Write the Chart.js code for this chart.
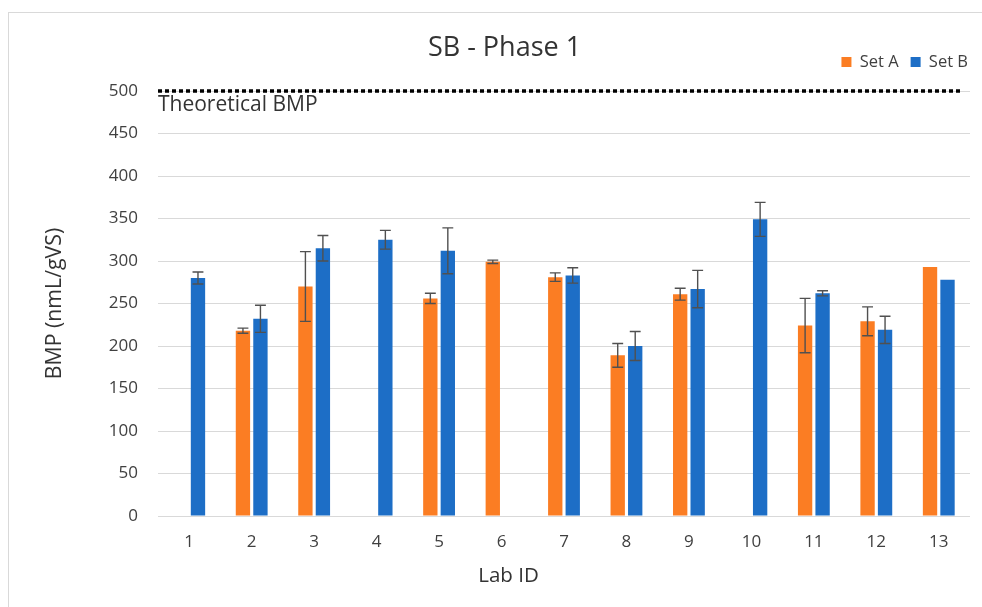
<!DOCTYPE html>
<html><head><meta charset="utf-8">
<script src="https://cdn.jsdelivr.net/npm/chart.js@4.4.1/dist/chart.umd.min.js"></script>
<style>
html,body{margin:0;padding:0;background:#fff;overflow:hidden;width:982px;height:607px;}
#frame{position:absolute;left:8px;top:12px;width:1000px;height:620px;border-left:1px solid #d9d9d9;border-top:1px solid #d9d9d9;}
#wrap{position:absolute;left:9px;top:13px;width:991px;height:594px;}
</style></head><body>
<div id="frame"></div>
<div id="wrap"><canvas id="c" width="991" height="594"></canvas></div>
<script>
// ---- data ----
const labIds = ['1','2','3','4','5','6','7','8','9','10','11','12','13'];
const setA = [null, 218, 270, null, 256, 299, 281, 189, 261, null, 224, 229, 293];
const setB = [280, 232, 315, 325, 312, null, 283, 200, 267, 349, 262, 219, 278];
const errA = [null, 3, 41, null, 6, 2, 5, 14, 7, null, 32, 17, null];
const errB = [7, 16, 15, 11, 27, null, 9, 17, 22, 20, 3, 16, null];
const theoreticalBMP = 500;
const theoreticalLabel = 'Theoretical BMP';
const yTicks = { min: 0, max: 500, step: 50 };

const FONT = '"Open Sans"';
Chart.defaults.font.family = FONT;

const errorBars = {
  id: 'errorBars',
  afterDatasetsDraw(chart) {
    const ctx = chart.ctx, y = chart.scales.y;
    const errs = [errA, errB];
    chart.data.datasets.forEach((ds, i) => {
      const meta = chart.getDatasetMeta(i);
      meta.data.forEach((bar, j) => {
        const v = ds.data[j], e = errs[i][j];
        if (v == null || e == null) return;
        const top = y.getPixelForValue(v + e), bot = y.getPixelForValue(v - e);
        const cw = bar.width * 0.38;
        ctx.save();
        ctx.strokeStyle = '#505050';
        ctx.lineWidth = 1.4;
        ctx.beginPath();
        ctx.moveTo(bar.x, top); ctx.lineTo(bar.x, bot);
        ctx.moveTo(bar.x - cw, top); ctx.lineTo(bar.x + cw, top);
        ctx.moveTo(bar.x - cw, bot); ctx.lineTo(bar.x + cw, bot);
        ctx.stroke();
        ctx.restore();
      });
    });
  }
};

const theoretical = {
  id: 'theoretical',
  afterDatasetsDraw(chart) {
    const { ctx, chartArea: a, scales: { y } } = chart;
    const py = y.getPixelForValue(theoreticalBMP);
    ctx.save();
    ctx.setLineDash([4, 3]);
    ctx.lineWidth = 3.5;
    ctx.strokeStyle = '#000';
    ctx.beginPath();
    ctx.moveTo(a.left, py);
    ctx.lineTo(a.right - 0.01 * (a.right - a.left), py);
    ctx.stroke();
    ctx.setLineDash([]);
    ctx.font = '21px ' + FONT;
    ctx.fillStyle = '#333';
    ctx.textAlign = 'left';
    ctx.textBaseline = 'alphabetic';
    ctx.fillText(theoreticalLabel, a.left, py + 20);
    ctx.restore();
  }
};

const xTitle = {
  id: 'xTitle',
  afterDraw(chart) {
    const { ctx, chartArea: a } = chart;
    const t = chart.options.scales.x.title;
    ctx.save();
    ctx.font = '20.5px ' + FONT;
    ctx.fillStyle = '#333';
    ctx.textAlign = 'center';
    ctx.textBaseline = 'alphabetic';
    ctx.fillText(t.text, chart.width / 2 + 4, a.bottom + 66);
    ctx.restore();
  }
};

new Chart(document.getElementById('c'), {
  type: 'bar',
  data: {
    labels: labIds,
    datasets: [
      { label: 'Set A', data: setA, backgroundColor: '#FB7D23', categoryPercentage: 0.56, barPercentage: 0.82 },
      { label: 'Set B', data: setB, backgroundColor: '#1D6EC6', categoryPercentage: 0.56, barPercentage: 0.82 }
    ]
  },
  options: {
    responsive: false,
    animation: false,
    devicePixelRatio: 1,
    layout: { padding: { left: 20, right: 20, top: 0, bottom: 0 } },
    plugins: {
      title: {
        display: true, text: 'SB - Phase 1', color: '#333',
        font: { size: 27, weight: 'normal' },
        padding: { top: 18.8, bottom: -22.45 }
      },
      legend: {
        display: true, position: 'top', align: 'end',
        labels: { boxWidth: 10, boxHeight: 10, padding: 12, color: '#404040', font: { size: 16.5 } }
      },
      subtitle: {
        display: true, text: ' ', weight: 500,
        font: { size: 1 }, padding: { top: 9.55, bottom: 0 }
      },
      tooltip: { enabled: false }
    },
    scales: {
      x: {
        grid: { display: false },
        border: { display: false },
        ticks: { color: '#404040', font: { size: 17 }, padding: 8 },
        title: { display: false, text: 'Lab ID' },
        afterFit(s) { s.height = 91; }
      },
      y: {
        min: yTicks.min, max: yTicks.max,
        ticks: { stepSize: yTicks.step, color: '#404040', font: { size: 17 }, padding: 20 },
        grid: { color: '#d9d9d9', lineWidth: 1, drawTicks: false },
        border: { display: false },
        title: { display: true, text: 'BMP (nmL/gVS)', color: '#333', font: { size: 21.3 }, padding: { top: 13, bottom: 0 } },
        afterFit(s) { s.width = 129; }
      },
      yRight: {
        type: 'linear', position: 'right', display: true,
        grid: { display: false }, border: { display: false }, ticks: { display: false },
        afterFit(s) { s.width = 10; }
      }
    }
  },
  plugins: [errorBars, theoretical, xTitle]
});
</script>
</body></html>
